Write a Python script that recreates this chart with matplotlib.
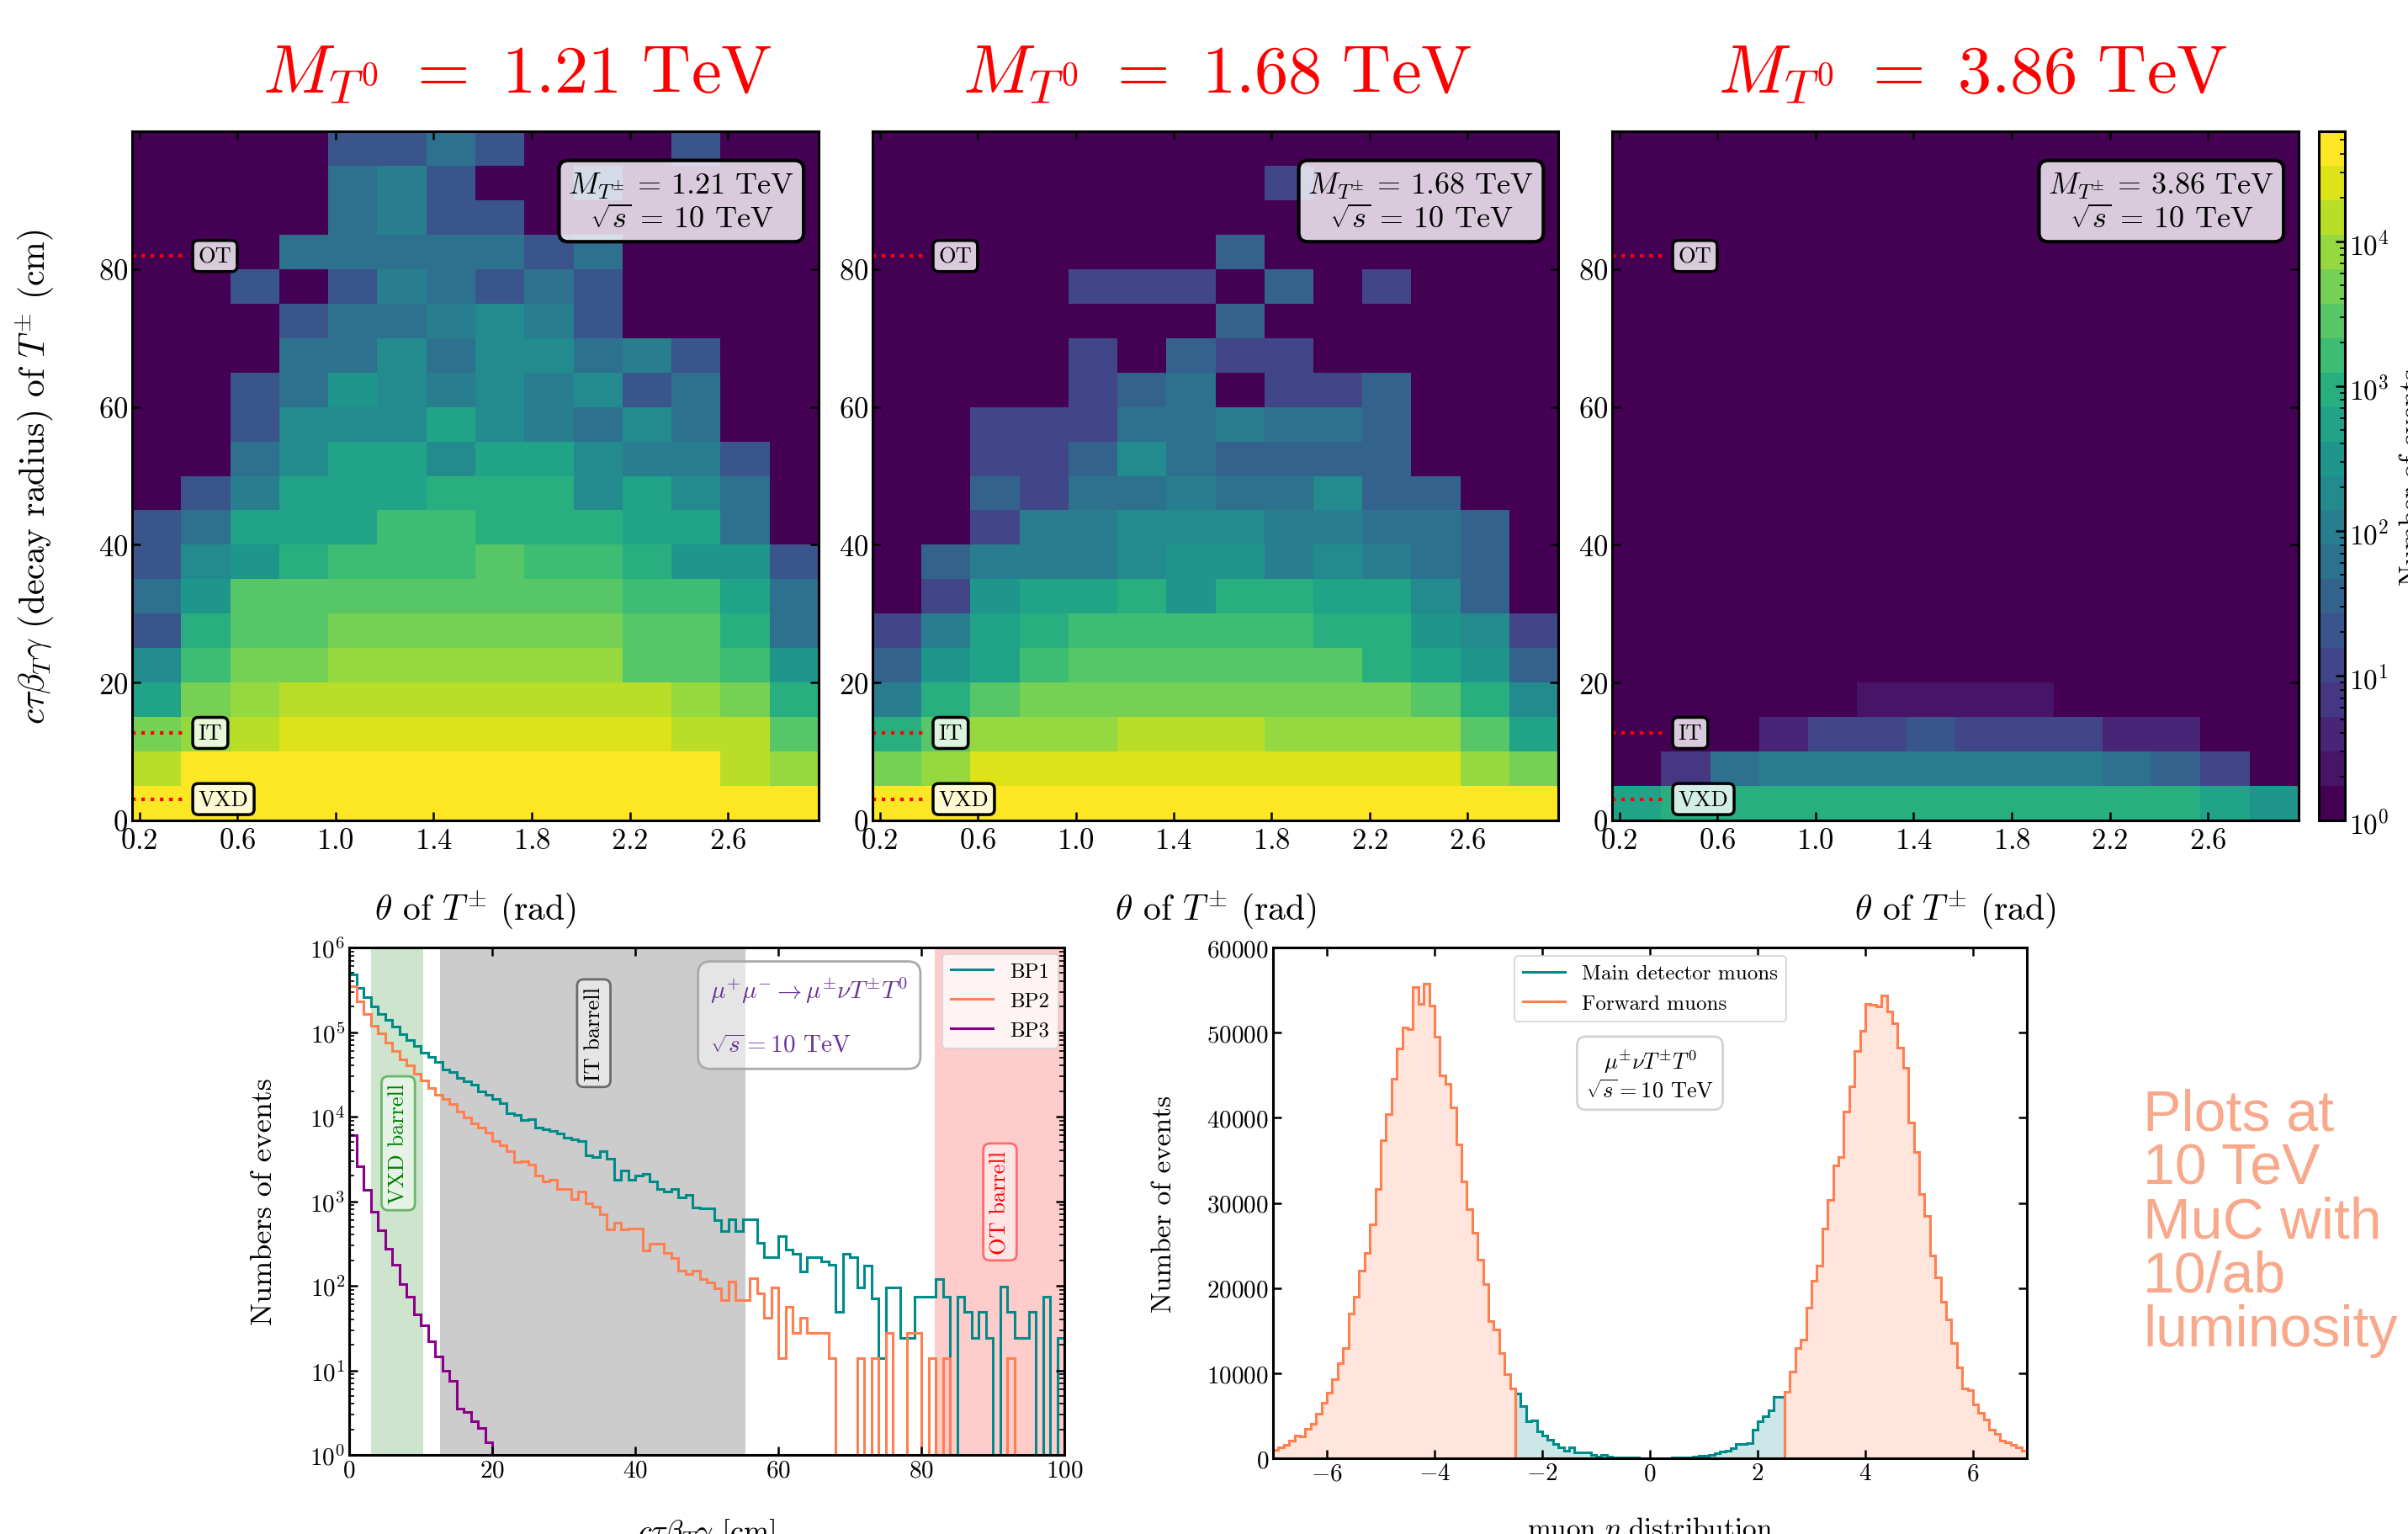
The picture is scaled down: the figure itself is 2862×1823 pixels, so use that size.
import numpy as np
import matplotlib
matplotlib.use('Agg')
import matplotlib.pyplot as plt
from matplotlib.colors import LogNorm

plt.rcParams.update({
    'font.family': 'serif',
    'font.serif': ['cmr10'],
    'mathtext.fontset': 'cm',
    'axes.formatter.use_mathtext': True,
    'axes.unicode_minus': True,
})

# ---------------- data ----------------
masses = ['1.21', '1.68', '3.86']
theta_edges = [0.17, 0.37, 0.57, 0.77, 0.97, 1.17, 1.37, 1.57, 1.77, 1.97, 2.17, 2.37, 2.57, 2.77, 2.97]
radius_edges = [0, 5, 10, 15, 20, 25, 30, 35, 40, 45, 50, 55, 60, 65, 70, 75, 80, 85, 90, 95, 100]

# counts, rows listed from top (95-100 cm) to bottom (0-5 cm)
counts_121 = [
    [0, 0, 0, 0, 21, 21, 64, 21, 0, 0, 0, 21, 0, 0],
    [0, 0, 0, 0, 64, 110, 21, 0, 0, 21, 0, 0, 0, 0],
    [0, 0, 0, 0, 64, 110, 21, 21, 0, 0, 0, 0, 0, 0],
    [0, 0, 0, 64, 64, 64, 64, 64, 21, 64, 0, 0, 0, 0],
    [0, 0, 21, 0, 21, 110, 64, 21, 64, 21, 0, 0, 0, 0],
    [0, 0, 0, 21, 64, 64, 110, 190, 110, 21, 0, 0, 0, 0],
    [0, 0, 0, 64, 64, 190, 64, 190, 190, 64, 110, 21, 0, 0],
    [0, 0, 21, 64, 330, 190, 110, 190, 110, 190, 21, 64, 0, 0],
    [0, 0, 21, 190, 190, 190, 580, 190, 110, 64, 190, 64, 0, 0],
    [0, 0, 64, 190, 580, 580, 190, 580, 580, 190, 110, 110, 21, 0],
    [0, 21, 110, 580, 580, 580, 1000, 1000, 1000, 190, 580, 190, 64, 0],
    [21, 64, 580, 580, 580, 1750, 1750, 1000, 1000, 1000, 580, 580, 64, 0],
    [21, 190, 330, 1000, 1750, 1750, 1750, 3000, 1750, 1750, 1000, 330, 330, 21],
    [64, 330, 3000, 3000, 3000, 3000, 3000, 3000, 3000, 3000, 1750, 1750, 580, 64],
    [21, 1000, 3000, 3000, 5200, 5200, 5200, 5200, 5200, 5200, 3000, 3000, 1000, 64],
    [190, 1750, 5200, 5200, 9100, 9100, 9100, 9100, 9100, 9100, 3000, 3000, 1750, 330],
    [580, 5200, 9100, 15800, 15800, 15800, 15800, 15800, 15800, 15800, 15800, 9100, 5200, 1000],
    [5200, 9100, 15800, 27000, 27000, 27000, 27000, 27000, 27000, 27000, 27000, 15800, 15800, 3000],
    [15800, 47000, 47000, 47000, 47000, 47000, 47000, 47000, 47000, 47000, 47000, 47000, 15800, 9100],
    [47000, 47000, 47000, 47000, 47000, 47000, 47000, 47000, 47000, 47000, 47000, 47000, 47000, 47000],
]
counts_168 = [
    [0, 0, 0, 0, 0, 0, 0, 0, 0, 0, 0, 0, 0, 0],
    [0, 0, 0, 0, 0, 0, 0, 0, 12, 0, 0, 0, 0, 0],
    [0, 0, 0, 0, 0, 0, 0, 0, 0, 0, 0, 0, 0, 0],
    [0, 0, 0, 0, 0, 0, 0, 37, 0, 0, 0, 0, 0, 0],
    [0, 0, 0, 0, 12, 12, 12, 0, 37, 0, 12, 0, 0, 0],
    [0, 0, 0, 0, 0, 0, 0, 37, 0, 0, 0, 0, 0, 0],
    [0, 0, 0, 0, 12, 0, 37, 12, 12, 0, 0, 0, 0, 0],
    [0, 0, 0, 0, 12, 37, 64, 0, 12, 12, 37, 0, 0, 0],
    [0, 0, 12, 12, 12, 64, 64, 110, 64, 64, 37, 0, 0, 0],
    [0, 0, 12, 12, 37, 190, 64, 37, 37, 37, 37, 0, 0, 0],
    [0, 0, 37, 12, 64, 64, 110, 64, 64, 190, 37, 37, 0, 0],
    [0, 0, 12, 110, 110, 190, 190, 190, 110, 110, 64, 64, 37, 0],
    [0, 37, 110, 110, 110, 190, 330, 330, 110, 190, 110, 64, 37, 0],
    [0, 12, 330, 580, 580, 1000, 330, 1000, 1000, 580, 580, 190, 37, 0],
    [12, 110, 580, 1000, 1750, 1750, 1750, 1750, 1750, 1000, 1000, 330, 190, 12],
    [37, 330, 580, 1750, 3000, 3000, 3000, 3000, 3000, 3000, 1000, 580, 330, 37],
    [110, 1000, 3000, 5200, 5200, 5200, 5200, 5200, 5200, 5200, 5200, 3000, 1000, 190],
    [1000, 3000, 9100, 9100, 9100, 15800, 15800, 15800, 9100, 9100, 9100, 9100, 3000, 580],
    [5200, 9100, 27000, 27000, 27000, 27000, 27000, 27000, 27000, 27000, 27000, 27000, 9100, 5200],
    [47000, 47000, 47000, 47000, 47000, 47000, 47000, 47000, 47000, 47000, 47000, 47000, 47000, 47000],
]
counts_386 = [
    [0, 0, 0, 0, 0, 0, 0, 0, 0, 0, 0, 0, 0, 0],
    [0, 0, 0, 0, 0, 0, 0, 0, 0, 0, 0, 0, 0, 0],
    [0, 0, 0, 0, 0, 0, 0, 0, 0, 0, 0, 0, 0, 0],
    [0, 0, 0, 0, 0, 0, 0, 0, 0, 0, 0, 0, 0, 0],
    [0, 0, 0, 0, 0, 0, 0, 0, 0, 0, 0, 0, 0, 0],
    [0, 0, 0, 0, 0, 0, 0, 0, 0, 0, 0, 0, 0, 0],
    [0, 0, 0, 0, 0, 0, 0, 0, 0, 0, 0, 0, 0, 0],
    [0, 0, 0, 0, 0, 0, 0, 0, 0, 0, 0, 0, 0, 0],
    [0, 0, 0, 0, 0, 0, 0, 0, 0, 0, 0, 0, 0, 0],
    [0, 0, 0, 0, 0, 0, 0, 0, 0, 0, 0, 0, 0, 0],
    [0, 0, 0, 0, 0, 0, 0, 0, 0, 0, 0, 0, 0, 0],
    [0, 0, 0, 0, 0, 0, 0, 0, 0, 0, 0, 0, 0, 0],
    [0, 0, 0, 0, 0, 0, 0, 0, 0, 0, 0, 0, 0, 0],
    [0, 0, 0, 0, 0, 0, 0, 0, 0, 0, 0, 0, 0, 0],
    [0, 0, 0, 0, 0, 0, 0, 0, 0, 0, 0, 0, 0, 0],
    [0, 0, 0, 0, 0, 0, 0, 0, 0, 0, 0, 0, 0, 0],
    [0, 0, 0, 0, 0, 2, 2, 2, 2, 0, 0, 0, 0, 0],
    [0, 0, 0, 4, 12, 12, 21, 12, 12, 12, 4, 4, 0, 0],
    [0, 7, 64, 110, 110, 110, 110, 110, 110, 110, 64, 37, 12, 0],
    [580, 1000, 1000, 1000, 1000, 1000, 1000, 1000, 1000, 1000, 1000, 1000, 580, 330],
]
heat_counts = [counts_121, counts_168, counts_386]

detector_names = ['VXD', 'IT', 'OT']
barrel_inner = [3.1, 12.7, 81.9]
barrel_outer = [10.4, 55.4, 148.6]

# decay-length histograms (1 cm bins)
decay_edges = np.arange(0, 101)
bp1 = [4.8e5, 3.3e5, 2.6e5, 2.0e5, 1.65e5, 1.4e5, 1.15e5, 9.4e4, 8.0e4, 6.9e4,
       5.7e4, 5.1e4, 4.4e4, 3.6e4, 3.4e4, 2.9e4, 2.6e4, 2.4e4, 2.0e4, 1.8e4,
       1.6e4, 1.45e4, 1.1e4, 1.05e4, 9.1e3, 9.3e3, 7.5e3, 7.1e3, 6.7e3, 6.3e3,
       5.7e3, 5.4e3, 5.2e3, 3.5e3, 3.3e3, 3.9e3, 3.2e3, 1.8e3, 2.3e3, 1.8e3,
       2.0e3, 2.1e3, 1.7e3, 1.4e3, 1.3e3, 1.4e3, 1.1e3, 1.2e3, 850, 820,
       830, 600, 440, 610, 440, 610, 610, 320, 220, 220,
       390, 265, 240, 147, 220, 220, 193, 177, 49, 240,
       220, 96, 172, 71, 14, 96, 96, 24, 24, 74,
       74, 74, 120, 74, 0, 74, 49, 24, 49, 24,
       0, 98, 49, 24, 24, 49, 0, 74, 0, 24]
bp2 = [3.5e5, 2.3e5, 1.65e5, 1.2e5, 9.6e4, 7.5e4, 6.0e4, 4.8e4, 4.0e4, 3.2e4,
       2.7e4, 2.2e4, 1.8e4, 1.6e4, 1.4e4, 1.15e4, 9.8e3, 8.3e3, 7.4e3, 6.4e3,
       5.2e3, 4.6e3, 3.9e3, 2.9e3, 3.0e3, 2.7e3, 2.0e3, 1.7e3, 1.8e3, 1.4e3,
       1.4e3, 1.07e3, 1.3e3, 940, 870, 700, 465, 555, 465, 475,
       475, 260, 315, 315, 245, 212, 150, 139, 151, 120,
       109, 94, 68, 112, 68, 68, 123, 81, 42, 96,
       14, 56, 28, 42, 28, 28, 28, 14, 0, 0,
       0, 14, 0, 14, 0, 28, 0, 0, 28, 28,
       0, 14, 0, 14, 0, 0, 0, 0, 0, 0,
       0, 0, 14, 0, 0, 0, 0, 0, 0, 0]
bp3 = [6.1e3, 2.6e3, 1.37e3, 750, 455, 277, 177, 105, 75, 46,
       34, 22, 14.5, 9.8, 7.5, 3.5, 3.2, 2.5, 2.1, 1.4]
bp3_edges = np.arange(0, 21)

# muon eta distributions (0.1 bins)
eta_left_edges = np.linspace(-7.0, -2.5, 46)
eta_main_edges = np.linspace(-2.5, 2.5, 51)
eta_right_edges = np.linspace(2.5, 7.0, 46)
forward_left = [970, 1280, 1560, 2060, 2650, 2530, 3500, 4080, 5250, 6500,
                7700, 9340, 11170, 12950, 17000, 18950, 22060, 24100, 27500, 31590,
                37340, 40460, 44620, 48120, 50570, 50450, 55350, 53400, 55740, 53170,
                49520, 45000, 43960, 41230, 36840, 32480, 29290, 26450, 23340, 20420,
                16140, 15170, 12330, 9920, 8170]
main_det = [7600, 6100, 4300, 4400, 3130, 2700, 2190, 1690, 1250, 910,
            1280, 670, 670, 670, 440, 170, 440, 170, 120, 100,
            80, 60, 50, 40, 30, 20, 30, 30, 40, 50,
            70, 90, 110, 200, 340, 340, 400, 570, 840, 910,
            1180, 1650, 1650, 1790, 3400, 4300, 4950, 5600, 7200, 7200]
forward_right = [7780, 10230, 12950, 13890, 17700, 20890, 22640, 26960, 30340, 34350,
                 35400, 40730, 43690, 47850, 50180, 53410, 53290, 53100, 54340, 52520,
                 51080, 48240, 45900, 39410, 35980, 31000, 28510, 23850, 21280, 18360,
                 16340, 13500, 10700, 8170, 7970, 6300, 5330, 4550, 3380, 2840,
                 2060, 1830, 1560, 1280, 900]

# ---------------- figure ----------------
W, H = 2862, 1824
fig = plt.figure(figsize=(W / 100, H / 100), dpi=100)
fig.patch.set_facecolor('white')


def ax_px(x0, y0, x1, y1):
    return fig.add_axes([x0 / W, 1 - y1 / H, (x1 - x0) / W, (y1 - y0) / H])


def style(ax, labelsize):
    for s in ax.spines.values():
        s.set_linewidth(2.2)
    ax.tick_params(which='both', direction='in', top=True, right=True,
                   labelsize=labelsize)
    ax.tick_params(which='major', length=7, width=1.8)
    ax.tick_params(which='minor', length=4, width=1.2)


cmap = plt.get_cmap('viridis', 20).copy()
cmap.set_bad(cmap(0))
norm = LogNorm(vmin=1, vmax=5.75e4)

heat_boxes = [(157, 157, 973, 976), (1037, 157, 1852, 976), (1916, 157, 2732, 976)]
title_x = [615, 1447, 2345]
mesh = None
for i, (box, m, cnt) in enumerate(zip(heat_boxes, masses, heat_counts)):
    ax = ax_px(*box)
    data = np.flipud(np.array(cnt, dtype=float))
    mesh = ax.pcolormesh(theta_edges, radius_edges, data, cmap=cmap, norm=norm)
    ax.set_xlim(theta_edges[0], theta_edges[-1])
    ax.set_ylim(radius_edges[0], radius_edges[-1])
    ax.set_xticks([0.2, 0.6, 1.0, 1.4, 1.8, 2.2, 2.6])
    ax.set_yticks([0, 20, 40, 60, 80])
    style(ax, 25)
    ax.tick_params(axis='x', which='major', pad=6)
    ax.set_xlabel(r'$\theta$ of $T^{\pm}$ (rad)', fontsize=30)
    ax.xaxis.set_label_coords(0.5, -0.098)
    if i == 0:
        ax.set_ylabel(r'$c\tau\beta_T\gamma$ (decay radius) of $T^{\pm}$ (cm)', fontsize=30)
        ax.yaxis.set_label_coords(-0.110, 0.5)
    for r, name in zip(barrel_inner, detector_names):
        ax.plot([theta_edges[0], 0.39], [r, r], color='red', ls=':', lw=3)
        ax.text(0.44, r, name, ha='left', va='center', fontsize=19,
                bbox=dict(boxstyle='round,pad=0.25', fc=(1, 1, 1, 0.8), ec='black', lw=2.5))
    ax.text(0.80, 0.898, r'$M_{T^{\pm}}$ = ' + m + ' TeV\n' + r'$\sqrt{s}$ = 10 TeV',
            transform=ax.transAxes, ha='center', va='center', multialignment='center',
            fontsize=26, bbox=dict(boxstyle='round,pad=0.3', fc=(1, 1, 1, 0.8), ec='black', lw=3))
    fig.text(title_x[i] / W, 1 - 110 / H, r'$M_{T^0}\ =\ ' + m + r'\ \mathrm{TeV}$',
             color='red', fontsize=58, ha='center', va='baseline')

cax = ax_px(2756, 157, 2787, 976)
cb = fig.colorbar(mesh, cax=cax)
cb.outline.set_linewidth(2.2)
cax.tick_params(which='both', direction='in', labelsize=24)
cax.tick_params(which='major', length=8, width=1.8)
cax.tick_params(which='minor', length=4, width=1.2)
cax.set_ylabel('Number of events', fontsize=24)
cax.yaxis.set_label_coords(3.1, 0.5)

# ---------------- bottom left ----------------
axL = ax_px(415, 1127, 1265, 1730)
band_colors = [('green', 0.2), ('gray', 0.4), ('red', 0.2)]
for lo, hi, (c, a) in zip(barrel_inner, barrel_outer, band_colors):
    axL.axvspan(lo, hi, color=c, alpha=a, lw=0)
axL.stairs(bp1, decay_edges, color='darkcyan', lw=2.2, label='BP1')
axL.stairs(bp2, decay_edges, color='coral', lw=2.2, label='BP2')
axL.stairs(bp3, bp3_edges, color='darkmagenta', lw=2.2, label='BP3')
axL.set_yscale('log')
axL.set_xlim(0, 100)
axL.set_ylim(1, 1e6)
axL.set_xticks([0, 20, 40, 60, 80, 100])
style(axL, 21)
axL.set_xlabel(r'$c\tau\beta_T\gamma$ [cm]', fontsize=26)
axL.xaxis.set_label_coords(0.5, -0.121)
axL.set_ylabel('Numbers of events', fontsize=26)
axL.yaxis.set_label_coords(-0.100, 0.5)

axL.text(6.86, 4840, 'VXD barrell', rotation=90, color='green', ha='center', va='center',
         fontsize=19, bbox=dict(boxstyle='round,pad=0.3', fc=(1, 1, 1, 0.5), ec=(0, 0.5, 0, 0.5), lw=2))
axL.text(34.2, 9.7e4, 'IT barrell', rotation=90, color='black', ha='center', va='center',
         fontsize=19, bbox=dict(boxstyle='round,pad=0.3', fc=(1, 1, 1, 0.5), ec=(0, 0, 0, 0.5), lw=2))
axL.text(91.0, 980, 'OT barrell', rotation=90, color='red', ha='center', va='center',
         fontsize=19, bbox=dict(boxstyle='round,pad=0.3', fc=(1, 1, 1, 0.5), ec=(1, 0, 0, 0.5), lw=2))
axL.text(0.505, 0.945, r'$\mu^{+}\mu^{-}\rightarrow\mu^{\pm}\nu T^{\pm}T^{0}$' + '\n\n' + r'$\sqrt{s}=10$ TeV',
         transform=axL.transAxes, ha='left', va='top', color='rebeccapurple', fontsize=21,
         bbox=dict(boxstyle='round,pad=0.5', fc=(1, 1, 1, 0.5), ec='darkgray', lw=2))
legL = axL.legend(loc='upper right', fontsize=18, framealpha=0.8, edgecolor='lightgray',
                  handlelength=2.0, borderaxespad=0.3)
legL.get_frame().set_linewidth(1.5)

# ---------------- bottom right ----------------
axR = ax_px(1513, 1127, 2409, 1734)
axR.stairs(main_det, eta_main_edges, fill=True, color='darkcyan', alpha=0.2, lw=0)
axR.stairs(main_det, eta_main_edges, color='darkcyan', lw=2.2, label='Main detector muons')
axR.stairs(forward_left, eta_left_edges, fill=True, color='coral', alpha=0.2, lw=0)
axR.stairs(forward_left, eta_left_edges, color='coral', lw=2.2, label='Forward muons')
axR.stairs(forward_right, eta_right_edges, fill=True, color='coral', alpha=0.2, lw=0)
axR.stairs(forward_right, eta_right_edges, color='coral', lw=2.2)
axR.set_xlim(-7, 7)
axR.set_ylim(0, 60000)
axR.set_xticks([-6, -4, -2, 0, 2, 4, 6])
axR.set_yticks([0, 10000, 20000, 30000, 40000, 50000, 60000])
style(axR, 21)
axR.set_xlabel(r'muon $\eta$ distribution', fontsize=24)
axR.xaxis.set_label_coords(0.5, -0.110)
axR.set_ylabel('Number of events', fontsize=24)
axR.yaxis.set_label_coords(-0.128, 0.5)
legR = axR.legend(loc='upper center', fontsize=18, framealpha=0.8, edgecolor='lightgray',
                  handlelength=2.0, borderaxespad=0.4)
legR.get_frame().set_linewidth(1.5)
axR.text(0.5, 0.752, r'$\mu^{\pm}\nu T^{\pm}T^{0}$' + '\n' + r'$\sqrt{s}=10$ TeV',
         transform=axR.transAxes, ha='center', va='center', multialignment='center',
         fontsize=19, bbox=dict(boxstyle='round,pad=0.4', fc='white', ec='lightgray', lw=2))

# ---------------- side note ----------------
fig.text(2547 / W, 1 - 1294 / H, 'Plots at\n10 TeV\nMuC with\n10/ab\nluminosity',
         family='Liberation Sans', fontsize=49, color='#f8a98b', linespacing=1.0,
         ha='left', va='top')

fig.savefig('out.png', dpi=100)
